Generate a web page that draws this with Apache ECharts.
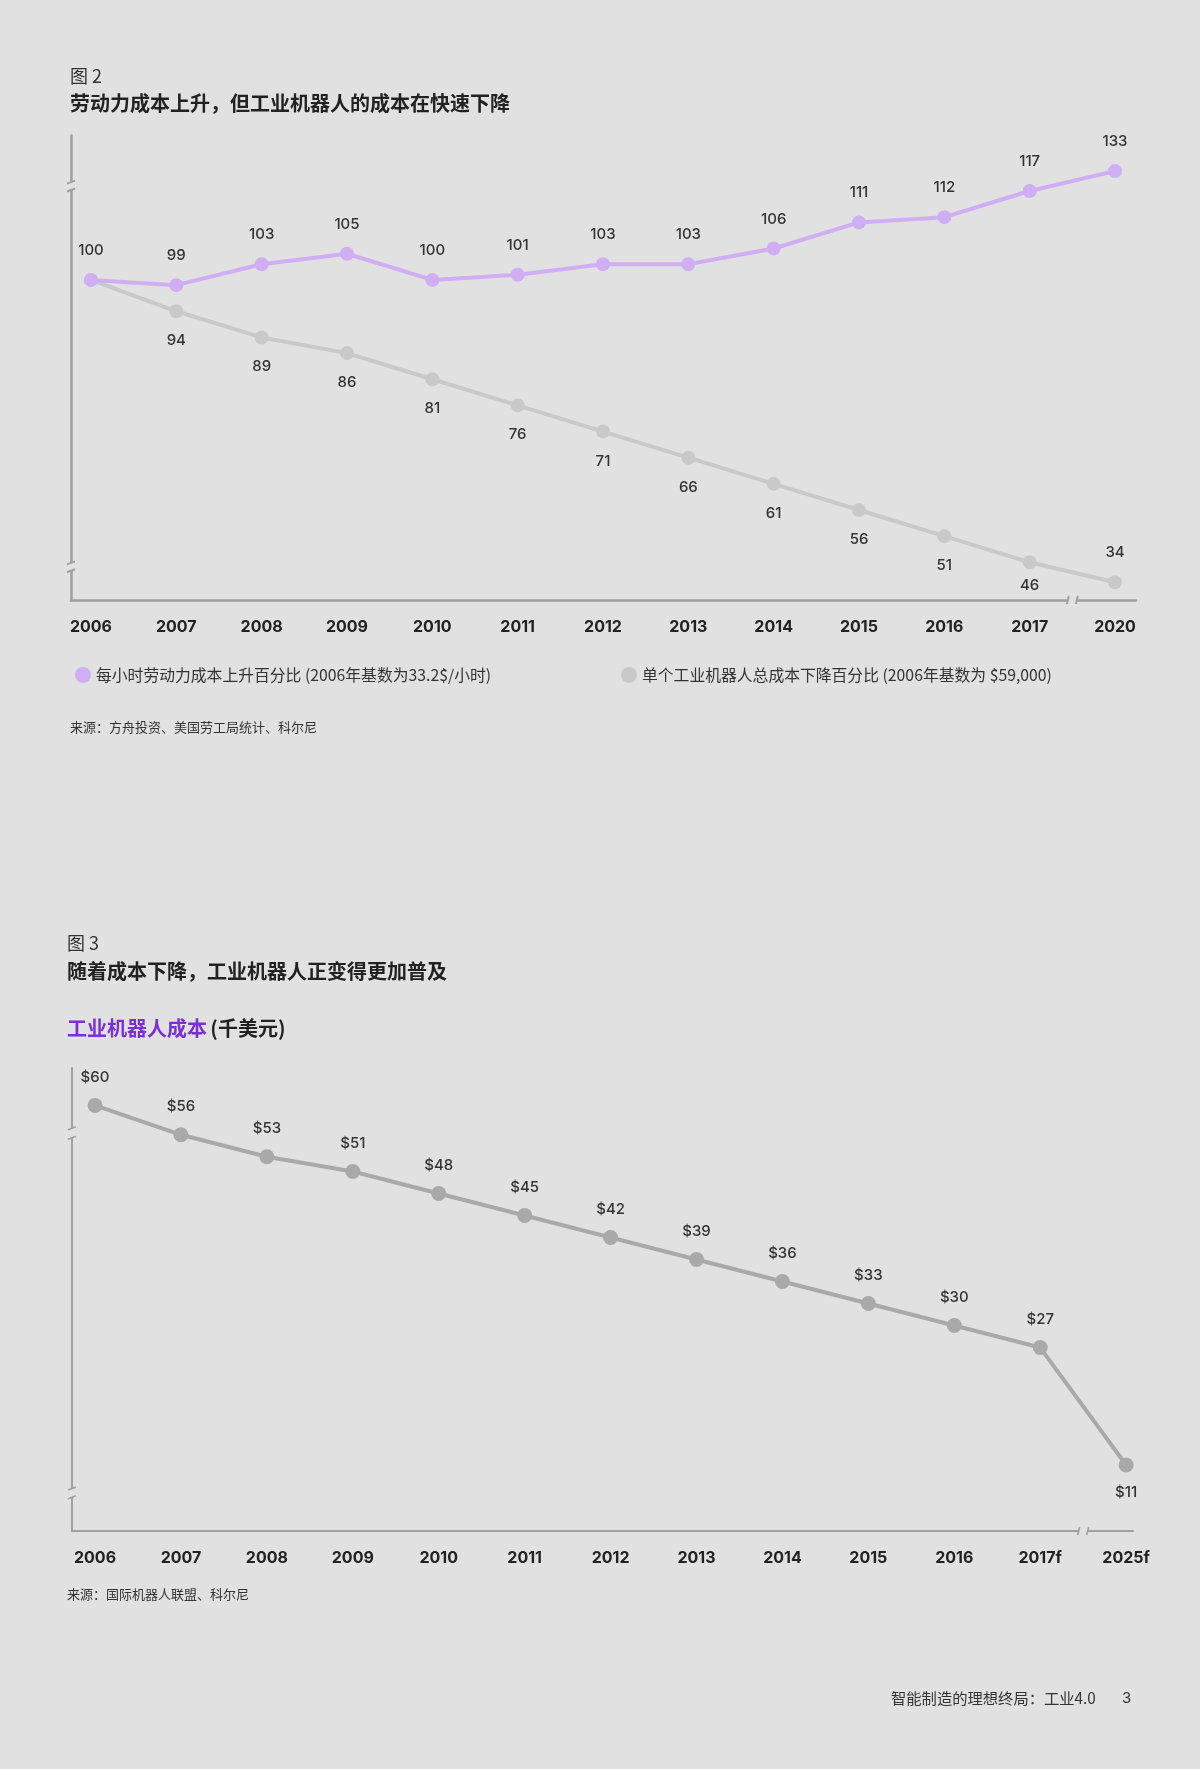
<!DOCTYPE html>
<html>
<head>
<meta charset="utf-8">
<script src="https://cdn.jsdelivr.net/npm/echarts@6/dist/echarts.min.js"></script>
<style>
html,body{margin:0;padding:0;background:#e1e1e1;}
#c{width:1200px;height:1769px;}
</style>
</head>
<body>
<div id="c"></div>
<script>
// ---------- data ----------
const years1 = ['2006','2007','2008','2009','2010','2011','2012','2013','2014','2015','2016','2017','2020'];
const laborCost = [100, 99, 103, 105, 100, 101, 103, 103, 106, 111, 112, 117, 133];
const robotCostPct = [100, 94, 89, 86, 81, 76, 71, 66, 61, 56, 51, 46, 34];
const years2 = ['2006','2007','2008','2009','2010','2011','2012','2013','2014','2015','2016','2017f','2025f'];
const robotCostK = [60, 56, 53, 51, 48, 45, 42, 39, 36, 33, 30, 27, 11];
const legend1 = '每小时劳动力成本上升百分比 (2006年基数为33.2$/小时)';
const legend2 = '单个工业机器人总成本下降百分比 (2006年基数为 $59,000)';
// value ranges collapsed by the y-axis breaks of figure 2
const yBreaks1 = [[36.2, 45.9], [117.2, 130.9]];
// decorative break marks of figure 3 (value positions on the y-axis)
const yMarks2 = [[6.6, 7.8], [55.6, 56.9]];

// ---------- styles ----------
const BG = '#e1e1e1';
const PURPLE = '#cfaef3';
const GRAY1 = '#c9c9c9';
const GRAY2 = '#a9a9a9';
const AXIS = '#a0a0a0';
const TXT = '#333333';
const FONT = 'Inter, "Noto Sans CJK SC", sans-serif';
const CJK = '"Noto Sans CJK SC", sans-serif';

const X1 = [-0.234, 12.246];
const X2 = [-0.268, 12.08];
const Y1 = [30.6, 139.9];
const Y2 = [2.0, 65.1];

function pts(arr) { return arr.map((v, i) => [i, v]); }

const chart = echarts.init(document.getElementById('c'), null, {renderer: 'canvas'});

const baseLabel = {show: true, color: TXT, fontSize: 15, fontWeight: 500, fontFamily: FONT};

const option = {
  backgroundColor: BG,
  animation: false,
  grid: [
    {left: 71, top: 135, width: 1065, height: 465},
    {left: 72, top: 1068, width: 1061, height: 463}
  ],
  legend: [
    {data: [legend1], left: 70, top: 662, icon: 'circle', itemWidth: 16, itemHeight: 16,
     selectedMode: false, textStyle: {fontSize: 15.8, color: TXT, fontFamily: CJK}},
    {data: [legend2], left: 616, top: 662, icon: 'circle', itemWidth: 16, itemHeight: 16,
     selectedMode: false, textStyle: {fontSize: 15.8, color: TXT, fontFamily: CJK}}
  ],
  xAxis: [
    {type: 'value', gridIndex: 0, min: X1[0], max: X1[1],
     axisLine: {show: true, onZero: false, lineStyle: {color: AXIS, width: 2.5}},
     axisTick: {show: false}, splitLine: {show: false},
     axisLabel: {customValues: years1.map((y, i) => i), formatter: v => years1[Math.round(v)],
                 color: '#222', fontWeight: 'bold', fontSize: 16, fontFamily: FONT, margin: 19}},
    {type: 'value', gridIndex: 1, min: X2[0], max: X2[1],
     axisLine: {show: true, onZero: false, lineStyle: {color: AXIS, width: 2}},
     axisTick: {show: false}, splitLine: {show: false},
     axisLabel: {customValues: years2.map((y, i) => i), formatter: v => years2[Math.round(v)],
                 color: '#222', fontWeight: 'bold', fontSize: 16, fontFamily: FONT, margin: 19}}
  ],
  yAxis: [
    {type: 'value', gridIndex: 0, min: Y1[0], max: Y1[1],
     breaks: yBreaks1.map(b => ({start: b[0], end: b[1], gap: '1.7%'})),
     breakArea: {show: false},
     axisLine: {show: true, onZero: false, lineStyle: {color: AXIS, width: 2.5}},
     axisTick: {show: false}, axisLabel: {show: false}, splitLine: {show: false}},
    {type: 'value', gridIndex: 1, min: Y2[0], max: Y2[1],
     axisLine: {show: true, onZero: false, lineStyle: {color: AXIS, width: 2}},
     axisTick: {show: false}, axisLabel: {show: false}, splitLine: {show: false}}
  ],
  series: [
    {name: legend2, type: 'line', xAxisIndex: 0, yAxisIndex: 0,
     data: pts(robotCostPct).map((p, i) => ({
       value: p,
       label: i === 0 ? {show: false}
            : (i === robotCostPct.length - 1 ? {position: 'top'}
            : {position: 'bottom', distance: i === robotCostPct.length - 2 ? 9 : 15})
     })),
     symbol: 'circle', symbolSize: 14,
     itemStyle: {color: GRAY1}, lineStyle: {color: GRAY1, width: 4},
     label: Object.assign({}, baseLabel, {distance: 15, formatter: p => p.value[1]})},
    {name: legend1, type: 'line', xAxisIndex: 0, yAxisIndex: 0,
     data: pts(laborCost),
     symbol: 'circle', symbolSize: 14,
     itemStyle: {color: PURPLE}, lineStyle: {color: PURPLE, width: 4},
     label: Object.assign({}, baseLabel, {position: 'top', distance: 15, formatter: p => p.value[1]})},
    {name: '工业机器人成本', type: 'line', xAxisIndex: 1, yAxisIndex: 1,
     data: pts(robotCostK).map((p, i) => ({
       value: p,
       label: {position: i === robotCostK.length - 1 ? 'bottom' : 'top'}
     })),
     symbol: 'circle', symbolSize: 15,
     itemStyle: {color: GRAY2}, lineStyle: {color: GRAY2, width: 4},
     label: Object.assign({}, baseLabel, {distance: 13, formatter: p => '$' + p.value[1]})}
  ]
};

chart.setOption(option);

// ---------- texts & axis-break marks ----------
function txt(x, y, text, size, weight, color, family) {
  return {type: 'text', x: x, y: y, z: 10,
    style: {text: text, fontSize: size, fontWeight: weight || 'normal', fill: color || TXT,
            fontFamily: family || CJK, verticalAlign: 'middle', textVerticalAlign: 'middle'}};
}

const g = [];
g.push(txt(70, 76, '图 2', 18, 'normal', TXT));
g.push(txt(70, 103, '劳动力成本上升，但工业机器人的成本在快速下降', 20, 'bold', '#222'));
g.push(txt(70, 727, '来源：方舟投资、美国劳工局统计、科尔尼', 13, 'normal', TXT));
g.push(txt(67, 943, '图 3', 18, 'normal', TXT));
g.push(txt(67, 971, '随着成本下降，工业机器人正变得更加普及', 20, 'bold', '#222'));
g.push({type: 'text', x: 67, y: 1028, z: 10,
  style: {text: '{a|工业机器人成本} {b|(千美元)}', verticalAlign: 'middle', textVerticalAlign: 'middle',
    rich: {a: {fontSize: 20, fontWeight: 'bold', fill: '#7a2fd9', color: '#7a2fd9', fontFamily: CJK},
           b: {fontSize: 20, fontWeight: 'bold', fill: '#222', color: '#222', fontFamily: CJK}}}});
g.push(txt(67, 1594, '来源：国际机器人联盟、科尔尼', 13, 'normal', TXT));
g.push(txt(891, 1698, '智能制造的理想终局：工业4.0', 15.3, 'normal', TXT));
g.push(txt(1122, 1698, '3', 15, 'normal', TXT, FONT));

function vBreak(ax, yTop, yBot, w) {
  g.push({type: 'rect', z: 50, shape: {x: ax - 5, y: yTop, width: 10, height: yBot - yTop}, style: {fill: BG}});
  [yTop, yBot].forEach(y => g.push({type: 'line', z: 51,
    shape: {x1: ax - 4, y1: y + 1.5, x2: ax + 4, y2: y - 1.5}, style: {stroke: AXIS, lineWidth: w}}));
}
function hBreak(xm, ay, w) {
  const x1 = xm - 4.5, x2 = xm + 4.5;
  g.push({type: 'rect', z: 50, shape: {x: x1, y: ay - 5, width: x2 - x1, height: 10}, style: {fill: BG}});
  [x1, x2].forEach(x => g.push({type: 'line', z: 51,
    shape: {x1: x - 1, y1: ay + 4, x2: x + 1, y2: ay - 4}, style: {stroke: AXIS, lineWidth: w}}));
}

// figure 2
yBreaks1.forEach(b => {
  const top = chart.convertToPixel({gridIndex: 0}, [X1[0], b[1]]);
  const bot = chart.convertToPixel({gridIndex: 0}, [X1[0], b[0]]);
  vBreak(top[0], top[1], bot[1], 2);
});
{
  const p = chart.convertToPixel({gridIndex: 0}, [(years1.length - 2 + years1.length - 1) / 2, Y1[0]]);
  hBreak(p[0], p[1], 2);
}
// figure 3
yMarks2.forEach(b => {
  const top = chart.convertToPixel({gridIndex: 1}, [X2[0], b[1]]);
  const bot = chart.convertToPixel({gridIndex: 1}, [X2[0], b[0]]);
  vBreak(top[0], top[1], bot[1], 1.6);
});
{
  const p = chart.convertToPixel({gridIndex: 1}, [(years2.length - 2 + years2.length - 1) / 2, Y2[0]]);
  hBreak(p[0], p[1], 1.6);
}

chart.setOption({graphic: g});
</script>
</body>
</html>
